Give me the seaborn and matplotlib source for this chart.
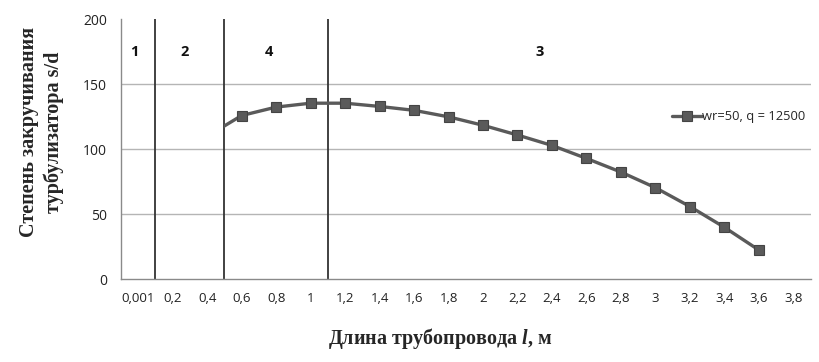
import matplotlib
matplotlib.use("Agg")
import matplotlib.pyplot as plt
import seaborn as sns
import pandas as pd
from matplotlib.patches import Rectangle

# categories (tick labels) of the x axis
categories = ["0,001", "0,2", "0,4", "0,6", "0,8", "1", "1,2", "1,4", "1,6", "1,8",
              "2", "2,2", "2,4", "2,6", "2,8", "3", "3,2", "3,4", "3,6", "3,8"]
# series: visible part of the curve starts from "0,4"
series_labels = ["0,4", "0,6", "0,8", "1", "1,2", "1,4", "1,6", "1,8", "2", "2,2",
                 "2,4", "2,6", "2,8", "3", "3,2", "3,4", "3,6"]
series_values = [110, 126, 132.5, 135.5, 135.5, 133, 130, 125, 118.5, 111,
                 103, 93, 82.5, 70.5, 56, 40, 22.5]
series_name = "wr=50, q = 12500"
y_ticks = [0, 50, 100, 150, 200]
zone_bounds = [0.5, 2.5, 5.5]          # boundaries between categories
zone_labels = ["1", "2", "4", "3"]
zone_label_x = [-0.1, 1.35, 3.8, 11.65]

df = pd.DataFrame({
    "x": [categories.index(c) for c in series_labels],
    "y": series_values,
    "s": series_name,
})

sns.set_style("white")
plt.rcParams["font.family"] = ["Open Sans", "DejaVu Sans"]
plt.rcParams["mathtext.fontset"] = "custom"
plt.rcParams["mathtext.bfit"] = "Liberation Serif:italic:bold"
plt.rcParams["mathtext.it"] = "Liberation Serif:italic:bold"
plt.rcParams["mathtext.rm"] = "Liberation Serif:bold"
plt.rcParams["mathtext.bf"] = "Liberation Serif:bold"

fig = plt.figure(figsize=(8.19, 3.62), dpi=100)
ax = fig.add_axes([0.1477, 0.2285, 0.842, 0.718])

line_col = "#5a5a5a"
sns.lineplot(data=df, x="x", y="y", hue="s", palette=[line_col], marker="s",
             markersize=7.5, markeredgecolor="#444444", markeredgewidth=0.8,
             linewidth=2.4, ax=ax, legend=True)

for ln in ax.lines:
    rect = Rectangle((2.5, -50), 30, 400, transform=ax.transData)
    ln.set_clip_path(rect)

ax.set_xlim(-0.5, 19.5)
ax.set_ylim(0, 200)
ax.set_yticks(y_ticks)
ax.set_xticks(range(len(categories)))
ax.set_xticklabels(categories)
ax.set_xticks([i - 0.5 for i in range(len(categories) + 1)], minor=True)
ax.tick_params(axis="x", which="major", length=0, labelsize=9.5, pad=9, colors="#222222")
ax.tick_params(axis="x", which="minor", length=4, width=0.8, color="#888888", direction="out")
ax.tick_params(axis="y", which="major", length=4, width=0.8, color="#888888",
               labelsize=10, pad=6)
for t in ax.get_yticklabels():
    t.set_color("#222222")

for yv in [50, 100, 150]:
    ax.axhline(yv, color="#b5b5b5", linewidth=1.0, zorder=0)

for xb in zone_bounds:
    ax.axvline(xb, color="#333333", linewidth=1.3, zorder=1)

for lab, xl in zip(zone_labels, zone_label_x):
    ax.text(xl, 175, lab, ha="center", va="center", fontsize=10.5, fontweight="bold",
            color="#111111")

for side in ["top", "right"]:
    ax.spines[side].set_visible(False)
for side in ["left", "bottom"]:
    ax.spines[side].set_color("#8a8a8a")
    ax.spines[side].set_linewidth(1.0)

ax.set_xlabel("")
ax.set_ylabel("")

leg = ax.legend(loc="center left", bbox_to_anchor=(0.79, 0.625), frameon=False,
                handlelength=2.3, handletextpad=0.0, fontsize=9.3, borderpad=0)

fig.text(0.051, 0.635, "Степень закручивания\nтурбулизатора s/d", rotation=90,
         ha="center", va="center", fontsize=14.5, fontweight="bold",
         family="Liberation Serif", linespacing=1.3)
fig.text(0.537, 0.065, r"Длина трубопровода $\mathit{l}$, м", ha="center", va="center",
         fontsize=14.5, fontweight="bold", family="Liberation Serif")

fig.savefig("out.png", dpi=100)
